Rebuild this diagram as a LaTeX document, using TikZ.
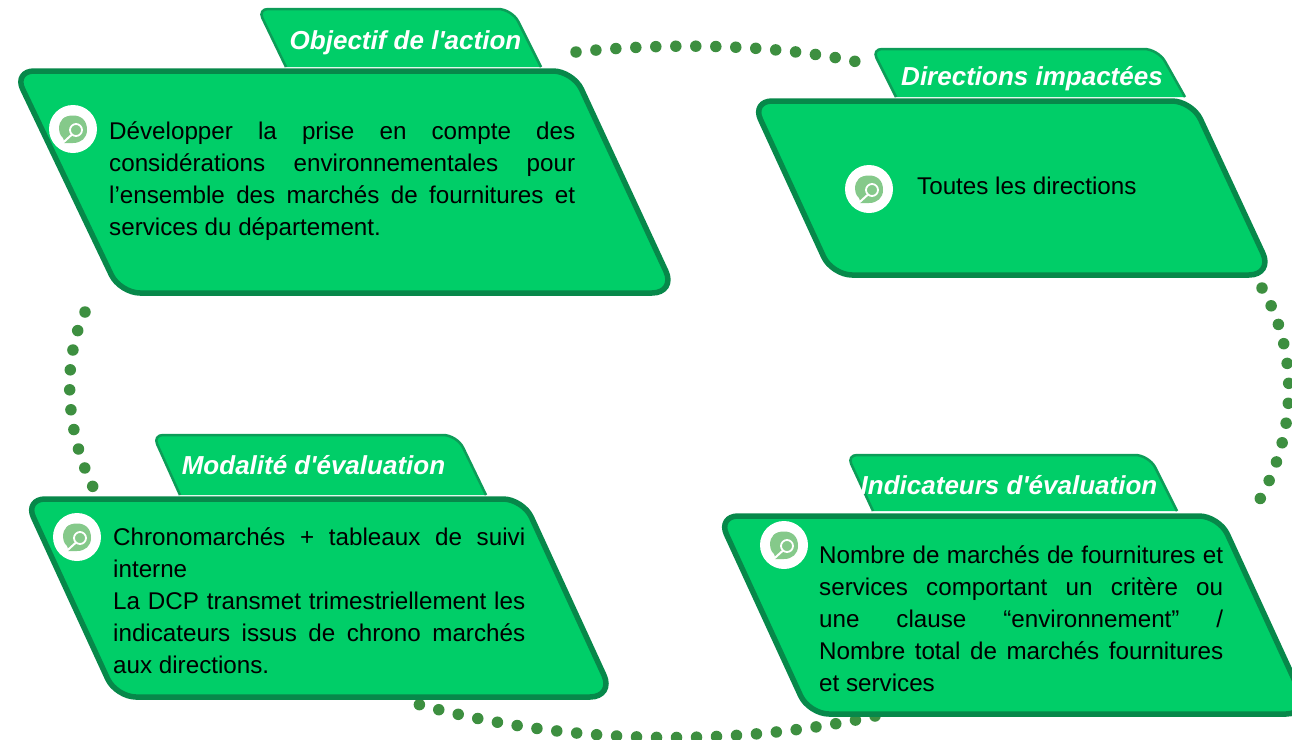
\documentclass[tikz,border=0pt]{standalone}
\usepackage{fontspec}
\setmainfont{Liberation Sans}
\newfontfamily\tabfont{Liberation Sans}
\definecolor{boxfill}{HTML}{00CE68}
\definecolor{boxedge}{HTML}{07884A}
\definecolor{tabedge}{HTML}{0C9D58}
\definecolor{dotgreen}{HTML}{3D8F40}
\definecolor{bubble}{HTML}{85C98A}
\newlength{\textwd}
\newcommand{\JL}[1]{\makebox[\textwd][s]{#1}\\}
\usetikzlibrary{calc}
\tikzset{
  x=1pt,y=-1pt,
  mainbox/.style={fill=boxfill,draw=boxedge,line width=5.5pt},
  tabline/.style={draw=tabedge,line width=2.5pt},
  tabfill/.style={fill=boxfill,draw=none},
  tabtext/.style={inner sep=0pt,anchor=base,text=white,font=\tabfont\fontsize{26}{32}\selectfont\bfseries\itshape},
  bodytext/.style={inner sep=0pt,anchor=north west,align=left,font=\fontsize{24.2}{32}\selectfont},
  dotline/.style={draw=dotgreen,line width=11.5pt,line cap=round,dash pattern=on 0pt off 20pt},
}
% parallelogram: TL TR BR BL
\newcommand{\mainshape}[4]{%
  \draw[mainbox] ($(#1)!0.5!(#2)$) [rounded corners=20pt] -- (#2) [rounded corners=24pt] -- (#3) [rounded corners=20pt] -- (#4) [rounded corners=20pt] -- (#1) [sharp corners] -- cycle;}
% tab: BL TL TR BR  (no bottom border)
\newcommand{\tabshape}[4]{%
  \fill[tabfill] (#1) [rounded corners=10pt] -- (#2) [rounded corners=14pt] -- (#3) [sharp corners] -- (#4) -- cycle;
  \draw[tabline] (#1) [rounded corners=10pt] -- (#2) [rounded corners=14pt] -- (#3) [sharp corners] -- (#4);}
\newcommand{\icon}[2]{%
  \begin{scope}[shift={(#1)}]
    \node[circle,fill=white,minimum size=48pt,inner sep=0pt] (#2) at (0,0) {};
    \fill[bubble] (0,-13.5) .. controls (9,-13.5) and (14,-8) .. (14,1) .. controls (14,9) and (8,14) .. (0,14)
      -- (-9,14) .. controls (-9,12) and (-9,10) .. (-10,9) .. controls (-13,6) and (-14,3) .. (-14,0)
      .. controls (-14,-9) and (-9,-13.5) .. (0,-13.5) -- cycle;
    \draw[white,line width=1.8pt,fill=bubble] (3,1) circle (6pt);
    \draw[white,line width=2pt,line cap=round] (-1,5.5) -- (-12,15.5);
  \end{scope}}
\begin{document}
\begin{tikzpicture}
\useasboundingbox (0,0) rectangle (1292,739);
% dotted arcs
\coordinate (a1) at (576,52);\coordinate (a2) at (858,62);
\coordinate (b1) at (1262,288);\coordinate (b2) at (1260,499);
\coordinate (c1) at (85,312);\coordinate (c2) at (93,487);
\coordinate (d1) at (875,716);\coordinate (d2) at (410,702);
\draw[dotline] (a1) .. controls (660,43) and (770,43) .. (a2);
\draw[dotline] (b1) .. controls (1298,350) and (1298,430) .. (b2);
\draw[dotline] (c1) .. controls (62,360) and (65,430) .. (c2);
\draw[dotline] (d1) .. controls (730,748) and (560,745) .. (d2);
% Objectif
\tabshape{286,67}{258,9}{512,9}{541,67}
\mainshape{14,71}{573,71}{676,293}{120,293}
\node[tabtext] (t1) at (405.5,49) {Objectif de l'action};
\icon{73,129}{i1}
\setlength{\textwd}{466pt}
\node[bodytext] (b1t) at (109,121) {\JL{Développer la prise en compte des}\JL{considérations environnementales pour}\JL{l’ensemble des marchés de fournitures et}services du département.};
% Directions
\tabshape{896,97}{872,49}{1158,49}{1185,97}
\mainshape{752,101}{1192,101}{1273,275}{832,275}
\node[tabtext] (t2) at (1032,85) {Directions impactées};
\icon{869,189}{i2}
\node[bodytext] (b2t) at (917,177) {Toutes les directions};
% Modalite
\tabshape{180,495}{153,435}{457,435}{486,495}
\mainshape{25,499}{523,499}{614,697}{116,697}
\node[tabtext] (t3) at (313.5,474) {Modalité d'évaluation};
\icon{77,537}{i3}
\setlength{\textwd}{412pt}
\node[bodytext] (b3t) at (113,527) {\JL{Chronomarchés + tableaux de suivi}interne\\\JL{La DCP transmet trimestriellement les}\JL{indicateurs issus de chrono marchés}aux directions.};
% Indicateurs
\tabshape{873,511}{847,455}{1149,455}{1177,511}
\mainshape{718,516}{1219,516}{1310,714}{809,714}
\node[tabtext] (t4) at (1009,494) {Indicateurs d'évaluation};
\icon{784,545}{i4}
\setlength{\textwd}{404pt}
\node[bodytext] (b4t) at (819,545) {\JL{Nombre de marchés de fournitures et}\JL{services comportant un critère ou}\JL{une clause “environnement” /}\JL{Nombre total de marchés fournitures}et services};
\end{tikzpicture}
\end{document}
